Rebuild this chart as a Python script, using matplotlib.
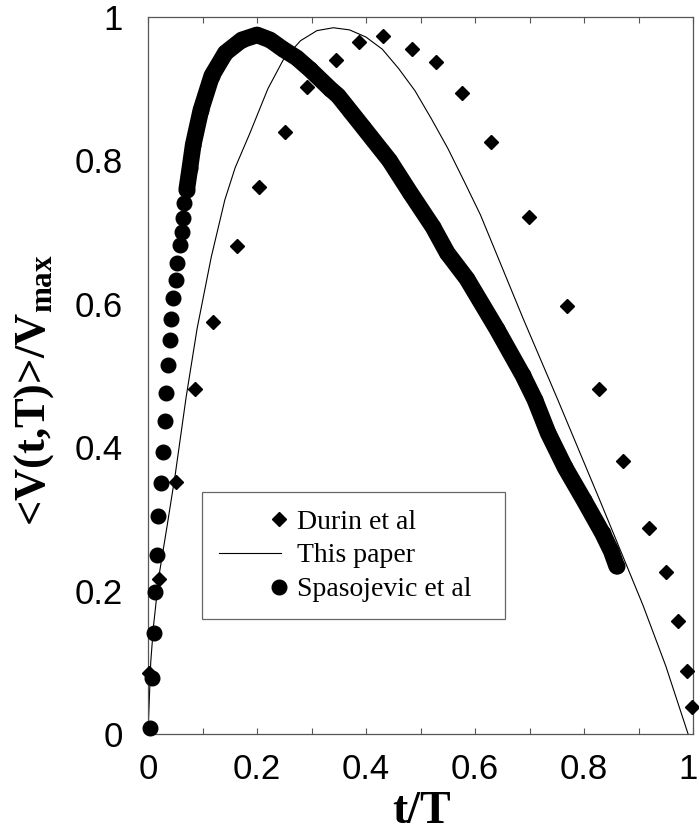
import numpy as np
import matplotlib
matplotlib.use("Agg")
import matplotlib.pyplot as plt
from matplotlib.lines import Line2D
from matplotlib.legend_handler import HandlerLine2DCompound
from matplotlib.transforms import ScaledTranslation

# ---------------- data ----------------
durin_t = [0.001, 0.020, 0.051, 0.086, 0.120, 0.163, 0.204, 0.251, 0.292, 0.345,
           0.387, 0.431, 0.484, 0.528, 0.576, 0.629, 0.699, 0.768, 0.828, 0.872,
           0.919, 0.950, 0.973, 0.989, 0.998]
durin_v = [0.085, 0.216, 0.352, 0.481, 0.575, 0.681, 0.763, 0.840, 0.902, 0.940,
           0.965, 0.973, 0.955, 0.937, 0.894, 0.826, 0.721, 0.597, 0.481, 0.381,
           0.287, 0.226, 0.158, 0.088, 0.038]

paper_t = [0.000, 0.005, 0.010, 0.020, 0.035, 0.050, 0.070, 0.090, 0.116, 0.141,
           0.160, 0.187, 0.220, 0.248, 0.280, 0.310, 0.340, 0.370, 0.400, 0.430,
           0.460, 0.490, 0.520, 0.550, 0.580, 0.610, 0.642, 0.688, 0.752, 0.829,
           0.908, 0.950, 0.991]
paper_v = [0.000, 0.100, 0.150, 0.220, 0.290, 0.362, 0.470, 0.565, 0.665, 0.745,
           0.790, 0.838, 0.900, 0.940, 0.967, 0.981, 0.985, 0.982, 0.972, 0.955,
           0.928, 0.897, 0.858, 0.817, 0.771, 0.724, 0.665, 0.580, 0.466, 0.326,
           0.180, 0.095, 0.000]

# Spasojevic et al: separate points at early times, then a dense band
spas_t = [0.003, 0.008, 0.011, 0.013, 0.016, 0.019, 0.024, 0.027, 0.031, 0.033,
          0.037, 0.040, 0.043, 0.046, 0.051, 0.053, 0.058, 0.062, 0.064, 0.066,
          0.071, 0.077, 0.083, 0.097, 0.117, 0.142, 0.172, 0.200, 0.224, 0.248,
          0.273, 0.297, 0.334, 0.349, 0.371, 0.394, 0.443, 0.481, 0.523, 0.549,
          0.585, 0.640, 0.688, 0.710, 0.734, 0.765, 0.800, 0.834, 0.850, 0.860]
spas_v = [0.008, 0.078, 0.141, 0.198, 0.250, 0.304, 0.350, 0.393, 0.437, 0.476,
          0.515, 0.550, 0.579, 0.608, 0.633, 0.657, 0.682, 0.700, 0.719, 0.741,
          0.759, 0.790, 0.822, 0.870, 0.918, 0.950, 0.968, 0.975, 0.968, 0.955,
          0.943, 0.927, 0.900, 0.890, 0.869, 0.847, 0.800, 0.755, 0.707, 0.671,
          0.635, 0.565, 0.500, 0.466, 0.420, 0.372, 0.326, 0.280, 0.255, 0.234]
band_start = 20   # index from which the measured points form a continuous band

x_ticks = [0, 0.2, 0.4, 0.6, 0.8, 1.0]
x_tick_labels = ["0", "0.2", "0.4", "0.6", "0.8", "1"]
y_ticks = [0, 0.2, 0.4, 0.6, 0.8, 1.0]
y_tick_labels = ["0", "0.2", "0.4", "0.6", "0.8", "1"]
legend_labels = ["Durin et al", "This paper", "Spasojevic et al"]

# ---------------- figure ----------------
W, H = 699, 833
fig = plt.figure(figsize=(W / 100, H / 100), dpi=100)
ax = fig.add_axes([148 / W, 1 - 734 / H, 545 / W, 717 / H])
ax.set_xlim(0, 1)
ax.set_ylim(0, 1)

spine_col = "#555555"
for s in ax.spines.values():
    s.set_color(spine_col)
    s.set_linewidth(0.9)

circ_ms = 10.5
ax.plot(paper_t, paper_v, color="k", lw=0.8, zorder=1)
ax.plot(spas_t[band_start:], spas_v[band_start:], color="k", lw=12,
        solid_capstyle="round", solid_joinstyle="round", zorder=2)
ax.plot(spas_t, spas_v, ls="none", marker="o", ms=circ_ms, color="k",
        mec="k", clip_on=False, zorder=3)
ax.plot(durin_t, durin_v, ls="none", marker="D", ms=7.3, color="k",
        clip_on=False, zorder=5)

ax.set_xticks(x_ticks)
ax.set_xticklabels(x_tick_labels)
ax.set_xticks(np.arange(0.1, 1.0, 0.2), minor=True)
ax.set_yticks(y_ticks)
ax.set_yticklabels(y_tick_labels)

ax.tick_params(axis="x", which="both", direction="in", top=True, bottom=True,
               length=4.3, width=0.8, color=spine_col, pad=14)
ax.tick_params(axis="y", which="both", length=0, pad=18)
for lab in ax.get_xticklabels() + ax.get_yticklabels():
    lab.set_fontfamily("Liberation Sans")
    lab.set_fontsize(25)
last = ax.get_xticklabels()[-1]
last.set_transform(last.get_transform() + ScaledTranslation(-5 / 100, 0, fig.dpi_scale_trans))

fig.text(422 / W, 1 - 823 / H, "t/T", family="Liberation Serif",
         weight="bold", fontsize=33, ha="center", va="baseline")
fig.text(34 / W, 1 - 390 / H, r"<V(t,T)>/V$_{\mathregular{max}}$",
         family="Liberation Serif", weight="bold", fontsize=32,
         rotation=90, ha="center", va="center")


class RightMarkerHandler(HandlerLine2DCompound):
    def get_xdata(self, legend, xdescent, ydescent, width, height, fontsize):
        xdata, xm = super().get_xdata(legend, xdescent, ydescent, width,
                                      height, fontsize)
        return xdata, np.array([-xdescent + width - 1.5])


h_durin = Line2D([], [], ls="none", marker="D", ms=7.3, color="k")
h_paper = Line2D([], [], color="k", lw=0.8)
h_spas = Line2D([], [], ls="none", marker="o", ms=circ_ms, color="k")
x0 = (202 - 148) / 545
y1 = (734 - 492) / 717
leg = ax.legend([h_durin, h_paper, h_spas], legend_labels,
                loc="upper left", bbox_to_anchor=(x0, y1, (505 - 202) / 545, 0.0),
                mode="expand", numpoints=1,
                handler_map={h_durin: RightMarkerHandler(numpoints=1),
                             h_spas: RightMarkerHandler(numpoints=1)},
                prop={"family": "Liberation Serif", "size": 20},
                frameon=True, fancybox=False, shadow=False, framealpha=1,
                edgecolor="#666666", borderpad=0.62, labelspacing=0.3,
                handlelength=2.23, handletextpad=0.58, borderaxespad=0.0)
leg.get_frame().set_linewidth(0.9)
leg.set_zorder(6)

fig.savefig("out.png", dpi=100)
